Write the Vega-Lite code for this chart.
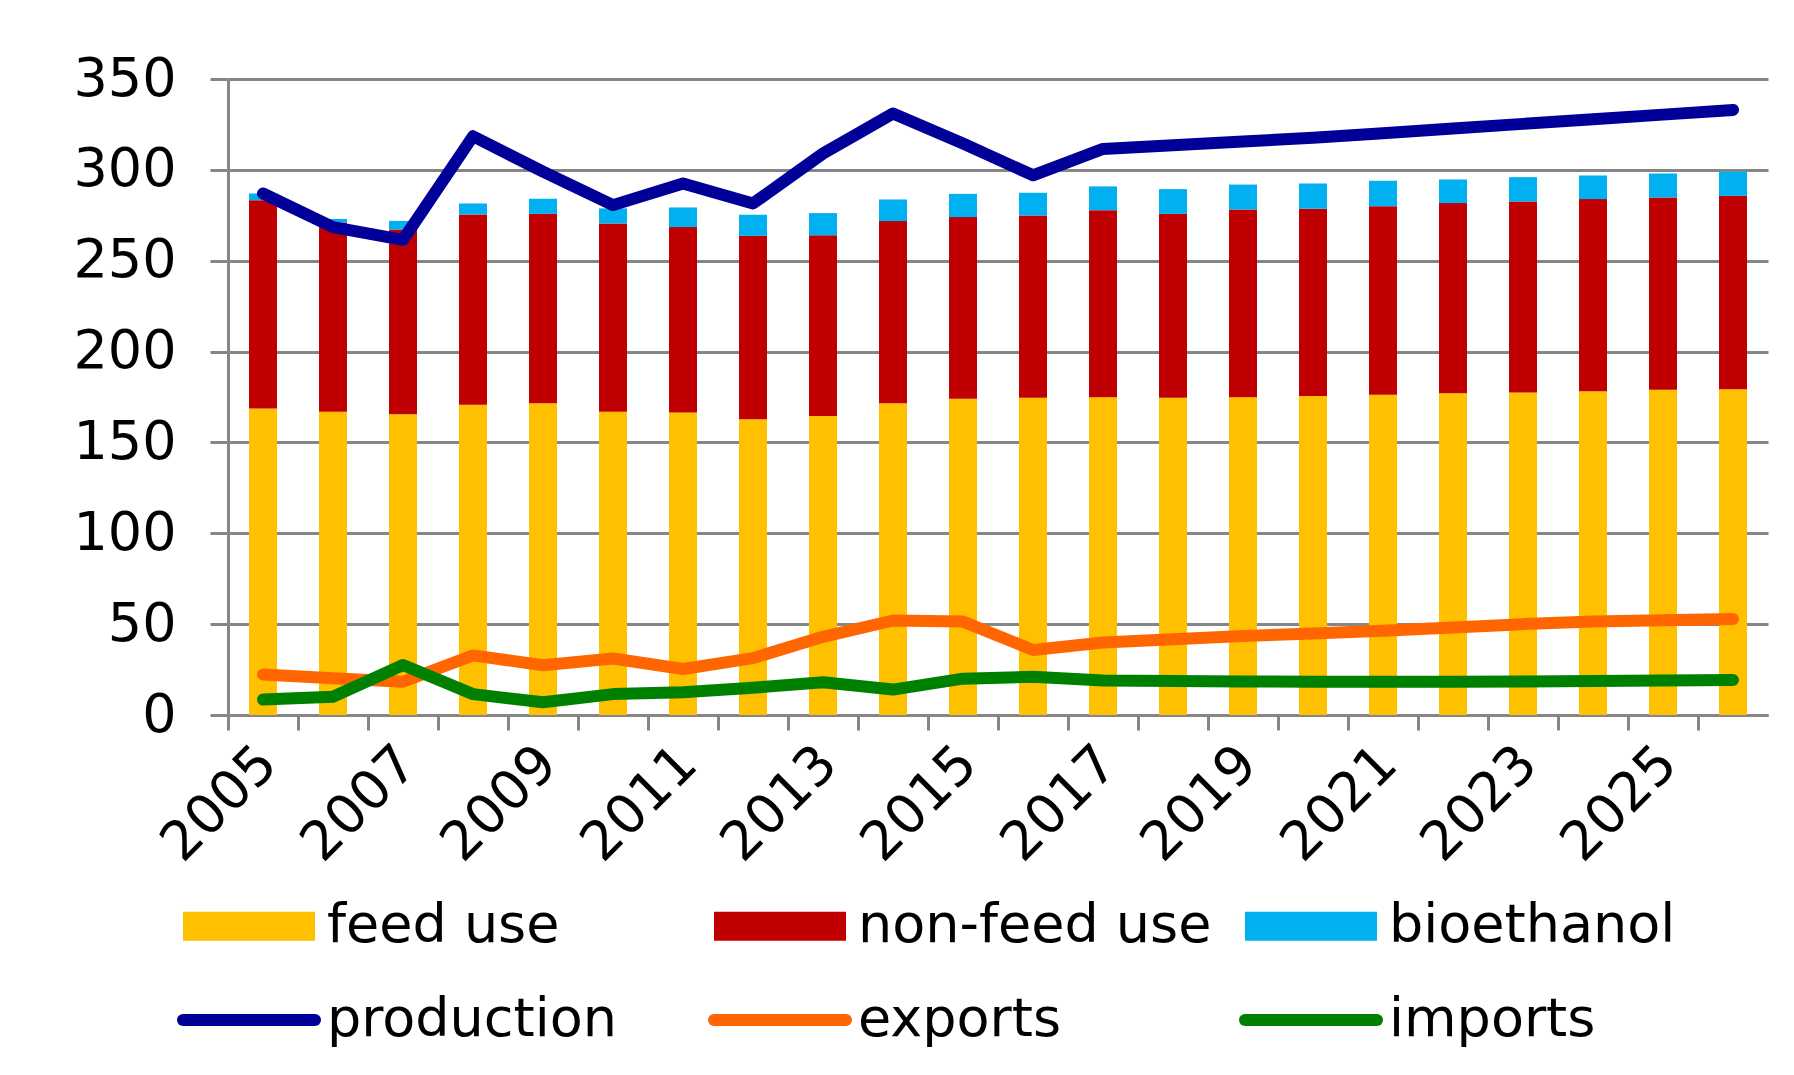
{
  "$schema": "https://vega.github.io/schema/vega-lite/v6.json",
  "width": 1540,
  "height": 636,
  "autosize": "none",
  "padding": {"left": 228, "top": 79, "right": 26, "bottom": 360},
  "background": "white",
  "config": {"font": "DejaVu Sans", "view": {"stroke": null}},
  "datasets": {
    "bars": [
      {"year": 2005, "series": "feed use", "value": 168.7}, {"year": 2005, "series": "non-feed use", "value": 114.6}, {"year": 2005, "series": "bioethanol", "value": 3.7},
      {"year": 2006, "series": "feed use", "value": 166.9}, {"year": 2006, "series": "non-feed use", "value": 104.1}, {"year": 2006, "series": "bioethanol", "value": 2.0},
      {"year": 2007, "series": "feed use", "value": 165.5}, {"year": 2007, "series": "non-feed use", "value": 101.7}, {"year": 2007, "series": "bioethanol", "value": 4.7},
      {"year": 2008, "series": "feed use", "value": 170.7}, {"year": 2008, "series": "non-feed use", "value": 104.8}, {"year": 2008, "series": "bioethanol", "value": 6.0},
      {"year": 2009, "series": "feed use", "value": 171.6}, {"year": 2009, "series": "non-feed use", "value": 104.2}, {"year": 2009, "series": "bioethanol", "value": 8.3},
      {"year": 2010, "series": "feed use", "value": 166.9}, {"year": 2010, "series": "non-feed use", "value": 103.6}, {"year": 2010, "series": "bioethanol", "value": 8.3},
      {"year": 2011, "series": "feed use", "value": 166.5}, {"year": 2011, "series": "non-feed use", "value": 102.0}, {"year": 2011, "series": "bioethanol", "value": 10.8},
      {"year": 2012, "series": "feed use", "value": 162.8}, {"year": 2012, "series": "non-feed use", "value": 100.9}, {"year": 2012, "series": "bioethanol", "value": 11.6},
      {"year": 2013, "series": "feed use", "value": 164.6}, {"year": 2013, "series": "non-feed use", "value": 99.4}, {"year": 2013, "series": "bioethanol", "value": 12.2},
      {"year": 2014, "series": "feed use", "value": 171.6}, {"year": 2014, "series": "non-feed use", "value": 100.2}, {"year": 2014, "series": "bioethanol", "value": 11.9},
      {"year": 2015, "series": "feed use", "value": 174.0}, {"year": 2015, "series": "non-feed use", "value": 100.0}, {"year": 2015, "series": "bioethanol", "value": 12.8},
      {"year": 2016, "series": "feed use", "value": 174.6}, {"year": 2016, "series": "non-feed use", "value": 100.3}, {"year": 2016, "series": "bioethanol", "value": 12.5},
      {"year": 2017, "series": "feed use", "value": 174.9}, {"year": 2017, "series": "non-feed use", "value": 102.9}, {"year": 2017, "series": "bioethanol", "value": 13.1},
      {"year": 2018, "series": "feed use", "value": 174.6}, {"year": 2018, "series": "non-feed use", "value": 101.2}, {"year": 2018, "series": "bioethanol", "value": 13.6},
      {"year": 2019, "series": "feed use", "value": 174.9}, {"year": 2019, "series": "non-feed use", "value": 103.3}, {"year": 2019, "series": "bioethanol", "value": 13.7},
      {"year": 2020, "series": "feed use", "value": 175.5}, {"year": 2020, "series": "non-feed use", "value": 103.1}, {"year": 2020, "series": "bioethanol", "value": 13.9},
      {"year": 2021, "series": "feed use", "value": 176.2}, {"year": 2021, "series": "non-feed use", "value": 103.8}, {"year": 2021, "series": "bioethanol", "value": 14.0},
      {"year": 2022, "series": "feed use", "value": 177.0}, {"year": 2022, "series": "non-feed use", "value": 104.7}, {"year": 2022, "series": "bioethanol", "value": 13.0},
      {"year": 2023, "series": "feed use", "value": 177.5}, {"year": 2023, "series": "non-feed use", "value": 105.1}, {"year": 2023, "series": "bioethanol", "value": 13.4},
      {"year": 2024, "series": "feed use", "value": 178.2}, {"year": 2024, "series": "non-feed use", "value": 105.7}, {"year": 2024, "series": "bioethanol", "value": 13.0},
      {"year": 2025, "series": "feed use", "value": 179.0}, {"year": 2025, "series": "non-feed use", "value": 105.8}, {"year": 2025, "series": "bioethanol", "value": 13.2},
      {"year": 2026, "series": "feed use", "value": 179.3}, {"year": 2026, "series": "non-feed use", "value": 106.4}, {"year": 2026, "series": "bioethanol", "value": 13.3}
    ],
    "lines": [
      {"year": 2005, "series": "production", "value": 287.0}, {"year": 2006, "series": "production", "value": 268.5}, {"year": 2007, "series": "production", "value": 261.5},
      {"year": 2008, "series": "production", "value": 318.5}, {"year": 2009, "series": "production", "value": 299.0}, {"year": 2010, "series": "production", "value": 280.6},
      {"year": 2011, "series": "production", "value": 292.5}, {"year": 2012, "series": "production", "value": 281.5}, {"year": 2013, "series": "production", "value": 309.0},
      {"year": 2014, "series": "production", "value": 331.0}, {"year": 2015, "series": "production", "value": 314.5}, {"year": 2016, "series": "production", "value": 297.0},
      {"year": 2017, "series": "production", "value": 311.5}, {"year": 2018, "series": "production", "value": 313.6}, {"year": 2019, "series": "production", "value": 315.6},
      {"year": 2020, "series": "production", "value": 317.7}, {"year": 2021, "series": "production", "value": 320.2}, {"year": 2022, "series": "production", "value": 322.8},
      {"year": 2023, "series": "production", "value": 325.3}, {"year": 2024, "series": "production", "value": 327.9}, {"year": 2025, "series": "production", "value": 330.4},
      {"year": 2026, "series": "production", "value": 333.0},
      {"year": 2005, "series": "exports", "value": 22.3}, {"year": 2006, "series": "exports", "value": 20.2}, {"year": 2007, "series": "exports", "value": 18.3},
      {"year": 2008, "series": "exports", "value": 32.8}, {"year": 2009, "series": "exports", "value": 27.4}, {"year": 2010, "series": "exports", "value": 31.1},
      {"year": 2011, "series": "exports", "value": 25.3}, {"year": 2012, "series": "exports", "value": 31.3}, {"year": 2013, "series": "exports", "value": 43.0},
      {"year": 2014, "series": "exports", "value": 52.0}, {"year": 2015, "series": "exports", "value": 51.4}, {"year": 2016, "series": "exports", "value": 35.8},
      {"year": 2017, "series": "exports", "value": 39.9}, {"year": 2018, "series": "exports", "value": 41.7}, {"year": 2019, "series": "exports", "value": 43.5},
      {"year": 2020, "series": "exports", "value": 44.8}, {"year": 2021, "series": "exports", "value": 46.3}, {"year": 2022, "series": "exports", "value": 48.1},
      {"year": 2023, "series": "exports", "value": 50.0}, {"year": 2024, "series": "exports", "value": 51.4}, {"year": 2025, "series": "exports", "value": 52.2},
      {"year": 2026, "series": "exports", "value": 52.8},
      {"year": 2005, "series": "imports", "value": 8.5}, {"year": 2006, "series": "imports", "value": 10.0}, {"year": 2007, "series": "imports", "value": 27.5},
      {"year": 2008, "series": "imports", "value": 11.5}, {"year": 2009, "series": "imports", "value": 7.0}, {"year": 2010, "series": "imports", "value": 11.5},
      {"year": 2011, "series": "imports", "value": 12.5}, {"year": 2012, "series": "imports", "value": 15.0}, {"year": 2013, "series": "imports", "value": 18.0},
      {"year": 2014, "series": "imports", "value": 14.0}, {"year": 2015, "series": "imports", "value": 20.0}, {"year": 2016, "series": "imports", "value": 21.0},
      {"year": 2017, "series": "imports", "value": 19.0}, {"year": 2018, "series": "imports", "value": 18.7}, {"year": 2019, "series": "imports", "value": 18.5},
      {"year": 2020, "series": "imports", "value": 18.3}, {"year": 2021, "series": "imports", "value": 18.3}, {"year": 2022, "series": "imports", "value": 18.3},
      {"year": 2023, "series": "imports", "value": 18.5}, {"year": 2024, "series": "imports", "value": 18.7}, {"year": 2025, "series": "imports", "value": 19.0},
      {"year": 2026, "series": "imports", "value": 19.3}
    ]
  },
  "encoding": {
    "x": {
      "field": "year", "type": "ordinal",
      "scale": {"paddingInner": 0.6, "paddingOuter": 0.3},
      "axis": {
        "title": null, "labelAngle": -45, "labelFont": "DejaVu Sans", "labelFontSize": 54, "labelColor": "black",
        "labelExpr": "datum.value % 2 == 1 ? datum.label : ''", "labelOverlap": false,
        "bandPosition": 0.5, "tickOffset": -35, "labelOffset": 21, "labelPadding": 6,
        "tickSize": 15, "tickWidth": 3, "tickColor": "#868686",
        "domainColor": "#868686", "domainWidth": 3, "grid": false
      }
    },
    "y": {
      "field": "value", "type": "quantitative",
      "scale": {"domain": [0, 350], "nice": false},
      "axis": {
        "title": null, "values": [0, 50, 100, 150, 200, 250, 300, 350],
        "labelFont": "DejaVu Sans", "labelFontSize": 54, "labelColor": "black", "labelPadding": 34,
        "grid": true, "gridColor": "#868686", "gridWidth": 3,
        "tickSize": 18, "tickWidth": 3, "tickColor": "#868686",
        "domainColor": "#868686", "domainWidth": 3
      }
    },
    "color": {
      "field": "series", "type": "nominal",
      "scale": {
        "domain": ["feed use", "non-feed use", "bioethanol", "production", "exports", "imports"],
        "range": ["#FFC000", "#C00000", "#00B0F0", "#000099", "#FF6600", "#008000"]
      },
      "legend": {
        "title": null, "orient": "none", "legendX": -51, "legendY": 811,
        "direction": "horizontal", "columns": 3, "gridAlign": "all",
        "columnPadding": 9, "rowPadding": 25, "padding": 0,
        "labelFont": "DejaVu Sans", "labelFontSize": 54, "labelColor": "black", "labelOffset": 78, "labelLimit": 1000,
        "symbolSize": 3600, "symbolStrokeWidth": 12, "symbolType": "M-0.8,-0.283H3.2V0.283H-0.8Z",
        "encode": {
          "symbols": {
            "update": {
              "size": {"value": 3600},
              "strokeWidth": {"value": 12},
              "shape": {"signal": "indexof(['production','exports','imports'], datum.value) >= 0 ? 'M-1,0H3.4' : 'M-0.8,-0.283H3.2V0.283H-0.8Z'"},
              "fill": {"signal": "indexof(['production','exports','imports'], datum.value) >= 0 ? 'transparent' : scale('color', datum.value)"},
              "stroke": {"signal": "scale('color', datum.value)"},
              "strokeCap": {"value": "round"},
              "strokeJoin": {"value": "miter"},
              "opacity": {"value": 1}
            }
          }
        }
      }
    }
  },
  "layer": [
    {
      "data": {"name": "bars"},
      "mark": {"type": "bar"},
      "encoding": {"order": {"field": "year"}}
    },
    {
      "data": {"name": "lines"},
      "mark": {"type": "line", "strokeWidth": 12, "strokeCap": "round", "strokeJoin": "round"}
    }
  ]
}
